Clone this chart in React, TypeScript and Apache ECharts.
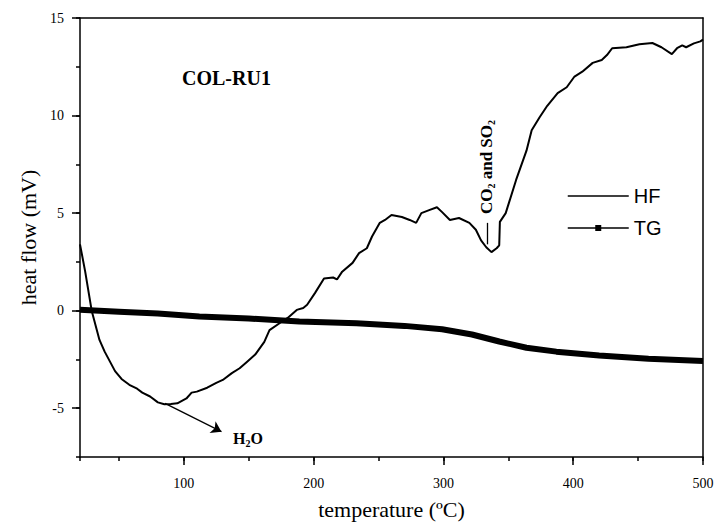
import React, { useEffect, useRef } from 'react';
import * as echarts from 'echarts';

// Heat flow (HF) curve: [temperature °C, mV]
const hfData: [number, number][] = [
  [20, 3.4], [24, 2.0], [29, 0.0], [35, -1.5], [39, -2.1], [47, -3.1], [52, -3.5], [58, -3.8],
  [64, -4.0], [68, -4.2], [74, -4.4], [80, -4.7], [85, -4.8], [90, -4.78], [95, -4.75],
  [102, -4.5], [106, -4.2], [110, -4.15], [118, -3.95], [125, -3.7], [130, -3.55],
  [137, -3.2], [143, -2.95], [149, -2.6], [155, -2.25], [162, -1.6], [166, -1.0],
  [174, -0.63], [180, -0.37], [187, 0.04], [192, 0.14], [195, 0.3], [201, 0.9],
  [208, 1.65], [215, 1.7], [218, 1.6], [222, 2.0], [230, 2.45], [235, 2.95], [241, 3.2],
  [245, 3.8], [251, 4.5], [255, 4.65], [260, 4.9], [264, 4.85], [268, 4.8], [274, 4.65],
  [279, 4.5], [283, 5.0], [289, 5.15], [295, 5.3], [299, 5.05], [305, 4.65], [312, 4.75],
  [320, 4.5], [325, 4.15], [329, 3.6], [333, 3.25], [337, 3.0], [341, 3.2], [343, 3.35],
  [343.5, 4.55], [348, 5.0], [356, 6.7], [364, 8.2], [368, 9.25], [374, 9.9], [380, 10.5],
  [388, 11.15], [395, 11.45], [401, 12.0], [407, 12.25], [415, 12.7], [422, 12.85],
  [426, 13.1], [430, 13.45], [441, 13.5], [451, 13.65], [461, 13.72], [468, 13.5],
  [476, 13.15], [480, 13.45], [484, 13.6], [487, 13.5], [493, 13.7], [498, 13.8], [500, 13.9],
];

// Thermogravimetric (TG) curve: [temperature °C, value]
const tgData: [number, number][] = [
  [20, 0.05], [50, -0.05], [80, -0.15], [112, -0.3], [150, -0.4], [189, -0.55],
  [233, -0.65], [270, -0.78], [299, -0.95], [322, -1.22], [343, -1.58], [364, -1.9],
  [387, -2.1], [420, -2.3], [458, -2.47], [500, -2.58],
];

const xMin = 20;
const xMax = 500;
const yMin = -7.5;
const yMax = 15;
const yMinorStep = 2.5;

const serif = '"Liberation Serif", "Times New Roman", serif';
const sans = '"Liberation Sans", Arial, sans-serif';

export default function App() {
  const ref = useRef<HTMLDivElement>(null);
  useEffect(() => {
    const chart = echarts.init(ref.current!, null, { renderer: 'svg' });
    const line = () => ({ show: true, onZero: false, lineStyle: { color: '#000', width: 1.5 } });
    const noLine = () => ({ show: false, onZero: false });
    const tick = (len: number) => ({ show: true, inside: false, length: len, lineStyle: { color: '#000', width: 1.5 } });
    const frame = () => ({
      axisLine: line(), axisTick: { show: false }, axisLabel: { show: false }, splitLine: { show: false },
    });
    chart.setOption({
      animation: false,
      backgroundColor: '#fff',
      grid: {
        left: 80, top: 18, right: 13, bottom: 65,
        outerBoundsMode: 'none', containLabel: false,
      },
      xAxis: [
        {
          type: 'value', min: xMin, max: xMax, splitNumber: 5, position: 'bottom',
          axisLine: line(), axisTick: tick(8),
          axisLabel: { showMinLabel: false, color: '#000', fontFamily: serif, fontSize: 14, margin: 19 },
          splitLine: { show: false },
          name: 'temperature (ºC)', nameLocation: 'middle', nameGap: 41,
          nameTextStyle: { fontFamily: serif, fontSize: 22, color: '#000' },
        },
        {
          type: 'value', min: xMin, max: xMax, splitNumber: 10, position: 'bottom',
          axisLine: noLine(), axisTick: tick(4), axisLabel: { show: false }, splitLine: { show: false },
        },
        { type: 'value', min: xMin, max: xMax, position: 'top', ...frame() },
      ],
      yAxis: [
        {
          type: 'value', min: yMin, max: yMax, splitNumber: 4, position: 'left',
          axisLine: line(), axisTick: tick(8),
          axisLabel: { showMinLabel: false, color: '#000', fontFamily: serif, fontSize: 14, margin: 16 },
          splitLine: { show: false },
          name: 'heat flow (mV)', nameLocation: 'middle', nameGap: 39,
          nameTextStyle: { fontFamily: serif, fontSize: 22, color: '#000' },
        },
        {
          type: 'value', min: yMin, max: yMax, interval: yMinorStep, position: 'left',
          axisLine: noLine(), axisTick: tick(4), axisLabel: { show: false }, splitLine: { show: false },
        },
        { type: 'value', min: yMin, max: yMax, position: 'right', ...frame() },
      ],
      legend: {
        orient: 'vertical', left: 562, top: 181,
        itemWidth: 61, itemHeight: 7.5, itemGap: 12,
        textStyle: { fontFamily: sans, fontSize: 20, color: '#000', lineHeight: 20 },
        lineStyle: { width: 1.5 },
        data: [{ name: 'HF', itemStyle: { opacity: 0 } }, { name: 'TG' }],
      },
      series: [
        {
          name: 'HF', type: 'line', xAxisIndex: 0, yAxisIndex: 0,
          data: hfData, symbol: 'none', color: '#000',
          lineStyle: { color: '#000', width: 2 }, z: 3,
          markLine: {
            silent: true, animation: false,
            symbol: ['none', 'arrow'], symbolSize: 10,
            lineStyle: { color: '#000', width: 1.3, type: 'solid' },
            label: { show: false },
            data: [
              [{ coord: [85.5, -4.75] }, { coord: [129, -6.2] }],
              [{ coord: [334, 4.5], symbol: 'none' }, { coord: [334, 3.4], symbol: 'none' }],
            ],
          },
        },
        {
          name: 'TG', type: 'line', xAxisIndex: 0, yAxisIndex: 0,
          data: tgData, symbol: 'rect', symbolSize: 6, showSymbol: false, color: '#000',
          itemStyle: { color: '#000' },
          lineStyle: { color: '#000', width: 6 }, z: 2,
        },
      ],
      graphic: [
        {
          type: 'text', x: 182, y: 78.4,
          style: { text: 'COL-RU1', font: `bold 20px ${serif}`, fill: '#000', verticalAlign: 'middle', align: 'left' },
        },
        {
          type: 'text', x: 233, y: 438,
          style: {
            text: '{a|H}{s|2}{a|O}', fill: '#000', align: 'left', verticalAlign: 'middle',
            rich: {
              a: { fontFamily: serif, fontWeight: 'bold', fontSize: 16, lineHeight: 20, fill: '#000' },
              s: { fontFamily: serif, fontWeight: 'bold', fontSize: 10, lineHeight: 9, verticalAlign: 'bottom', fill: '#000' },
            },
          },
        },
        {
          type: 'text', x: 486, y: 167, rotation: Math.PI / 2,
          style: {
            text: '{a|CO}{s|2}{a| and SO}{s|2}', fill: '#000', align: 'center', verticalAlign: 'middle',
            rich: {
              a: { fontFamily: serif, fontWeight: 'bold', fontSize: 17, lineHeight: 20, fill: '#000' },
              s: { fontFamily: serif, fontWeight: 'bold', fontSize: 10, lineHeight: 9, verticalAlign: 'bottom', fill: '#000' },
            },
          },
        },
      ],
    });
    return () => chart.dispose();
  }, []);
  return <div ref={ref} style={{ position: 'absolute', left: 0, top: 0, width: 716, height: 522 }} />;
}
